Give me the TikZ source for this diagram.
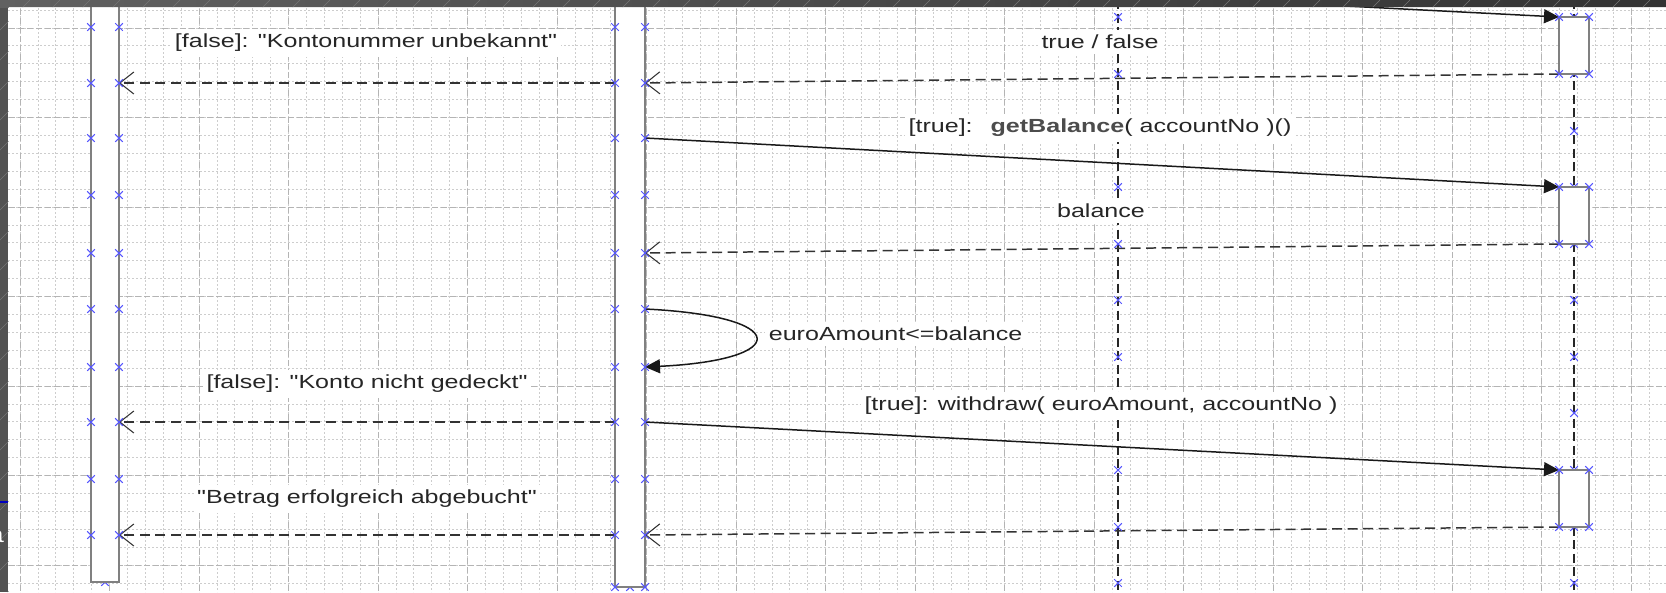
\documentclass[tikz,border=0pt]{standalone}
\usepackage{fontspec}
\newfontfamily\diagfont[FakeStretch=1.32]{Liberation Sans}
\usetikzlibrary{arrows.meta}
\newcommand{\lf}{\diagfont\fontsize{10.8}{13}\selectfont}
\definecolor{gridgray}{RGB}{205,205,205}
\definecolor{gridmajor}{RGB}{180,180,180}
\definecolor{markblue}{RGB}{85,85,255}
\definecolor{framegray}{RGB}{82,82,82}
\definecolor{stripegray}{RGB}{118,118,118}
\tikzset{
  actbar/.style={draw=black!50, line width=1.5pt, fill=white},
  callmsg/.style={draw=black!90, line width=0.85pt, -{Triangle[length=3mm,width=2.8mm]}},
  retmsg/.style={draw=black!80, line width=0.85pt, dash pattern=on 2mm off 1.1mm,
    -{Straight Barb[length=2.8mm,width=4.4mm,line width=0.6pt]}},
  lifeline/.style={draw=black!85, line width=0.85pt, dash pattern=on 1.8mm off 0.9mm},
  msglabel/.style={fill=white, inner xsep=2pt, inner ysep=3pt, text=black!85, font=\lf},
  xmk/.pic={\draw[markblue, line width=0.6pt] (-3.8,-3.8) -- (3.8,3.8) (-3.8,3.8) -- (3.8,-3.8);}
}
\begin{document}
\begin{tikzpicture}[x=0.2mm, y=-0.2mm]
\useasboundingbox (0,0) rectangle (1666,592);
% ---- grid background
\begin{scope}
  \clip (0,0) rectangle (1666,592);
  \fill[white] (0,0) rectangle (1666,592);
  \foreach \k in {0,...,92}
    \draw[gridgray, line width=0.35pt, dash pattern=on 0.4mm off 0.4mm] ({20+17.9*\k},0) -- ({20+17.9*\k},592);
  \foreach \k in {0,...,33}
    \draw[gridgray, line width=0.35pt, dash pattern=on 0.4mm off 0.4mm] (0,{10+17.9*\k}) -- (1666,{10+17.9*\k});
  \foreach \k in {0,5,...,90}
    \draw[gridmajor, line width=0.35pt, dash pattern=on 1.2mm off 0.6mm] ({20+17.9*\k},0) -- ({20+17.9*\k},592);
  \foreach \k in {1,6,...,31}
    \draw[gridmajor, line width=0.35pt, dash pattern=on 1.2mm off 0.6mm] (0,{10+17.9*\k}) -- (1666,{10+17.9*\k});
\end{scope}
% ---- anchor points on the bars
\foreach \n/\y in {0/27,1/83,2/138,3/195,4/253,5/309,6/367,7/422,8/479,9/535}{
  \coordinate (lb\n) at (119,\y);
  \coordinate (ma\n) at (615,\y);
  \coordinate (mb\n) at (645,\y);
}
\foreach \n/\y in {0/17,1/74,2/131,3/187,4/244,5/300,6/357,7/413,8/470,9/527,10/583}
  \coordinate (rb\n) at (1559,\y);
\coordinate (mtop) at (645,-30);
% ---- lifelines
\draw[lifeline] (1118,0) -- (1118,592);
\draw[lifeline] (1574,0) -- (1574,592);
% half hidden markers under the bars
\foreach \p in {(105,582),(630,587),(1574,17),(1574,74),(1574,187),(1574,244),(1574,470),(1574,527)}
  \pic at \p {xmk};
% ---- activation bars
\begin{scope}
  \clip (0,0) rectangle (1666,592);
  \draw[actbar] (91,-20) rectangle (119,582);
  \draw[actbar] (615,-20) rectangle (645,587);
\end{scope}
\draw[actbar] (rb0) rectangle (1589,74);
\draw[actbar] (rb3) rectangle (1589,244);
\draw[actbar] (rb8) rectangle (1589,527);
% ---- messages
\begin{scope}
  \clip (0,0) rectangle (1666,592);
  \draw[callmsg] (mtop) -- (rb0);
\end{scope}
\draw[retmsg] (rb1) -- (mb1);
\draw[retmsg] (ma1) -- (lb1);
\draw[callmsg] (mb2) -- (rb3);
\draw[retmsg] (rb4) -- (mb4);
\draw[callmsg] (mb5) .. controls +(147,7) and +(147,-7) .. (mb6);
\draw[retmsg] (ma7) -- (lb7);
\draw[callmsg] (mb7) -- (rb8);
\draw[retmsg] (rb9) -- (mb9);
\draw[retmsg] (ma9) -- (lb9);
% ---- markers
\foreach \y in {27,83,138,195,253,309,367,422,479,535}{
  \pic at (91,\y) {xmk}; \pic at (119,\y) {xmk};
  \pic at (615,\y) {xmk}; \pic at (645,\y) {xmk};
}
\pic at (615,587) {xmk}; \pic at (645,587) {xmk};
\foreach \y in {17,74,131,187,244,300,357,413,470,527,583}
  \pic at (1118,\y) {xmk};
\foreach \y in {17,74,187,244,470,527}{
  \pic at (1559,\y) {xmk}; \pic at (1589,\y) {xmk};
}
\foreach \y in {131,300,357,413,583}
  \pic at (1574,\y) {xmk};
% ---- labels
\node[msglabel] (lblunknown) at (366,43) {[false]: "Kontonummer unbekannt"};
\node[msglabel] (lblbool) at (1100,42) {true / false};
\node[msglabel] (lblbalance) at (1100,128) {[true]:\hspace{3.6mm}\textbf{\color{black!70}getBalance}( accountNo )()};
\node[msglabel] (lblresult) at (1101,211) {balance};
\node[msglabel, anchor=west] (lblcheck) at (765,334) {euroAmount<=balance};
\node[msglabel] (lblnocover) at (367,384) {[false]: "Konto nicht gedeckt"};
\node[msglabel] (lblwithdraw) at (1101,406) {[true]: withdraw( euroAmount, accountNo )};
\node[msglabel] (lbldone) at (367,499) {"Betrag erfolgreich abgebucht"};
% ---- window frame
\begin{scope}
  \clip (0,0) rectangle (1666,7) (0,0) rectangle (8.5,592);
  \fill[framegray] (0,0) rectangle (8.5,592);
  \shade[left color=black!62, right color=black!80] (0,0) rectangle (1666,7);
  \foreach \h in {-600,-570,...,1680}
    \draw[stripegray, line width=0.25pt] (\h,600) -- (\h+600,0);
  \draw[blue!75!black, line width=0.9pt] (0,502) -- (8.5,502);
  \node[anchor=east, text=white, font=\diagfont\fontsize{13}{15}\selectfont] (lblva) at (10,536) {va};
\end{scope}
\end{tikzpicture}
\end{document}
